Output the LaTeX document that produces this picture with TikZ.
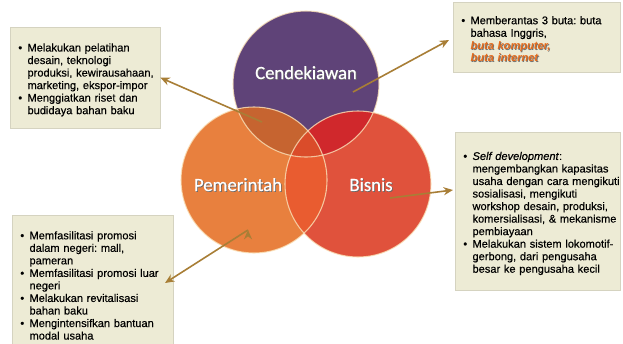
\documentclass[tikz,border=0pt]{standalone}
\usepackage{fontspec}
\setmainfont{Liberation Sans}[UprightFeatures={FakeBold=0.35},ItalicFeatures={FakeBold=0.35}]
\newfontfamily\hurufjudul{Carlito}[FakeBold=0.6]
\usetikzlibrary{arrows.meta}
\frenchspacing

\definecolor{ungu}{RGB}{95,67,120}
\definecolor{oranye}{RGB}{232,128,62}
\definecolor{merah}{RGB}{224,82,60}
\definecolor{irisanPB}{RGB}{233,92,48}
\definecolor{irisanCP}{RGB}{198,100,48}
\definecolor{irisanCB}{RGB}{208,40,44}
\definecolor{irisanCPB}{RGB}{218,76,42}
\definecolor{tepi}{RGB}{250,226,186}
\definecolor{isikotak}{RGB}{237,235,213}
\definecolor{coklat}{RGB}{168,126,54}
\definecolor{jingga}{RGB}{228,108,30}

\newlength{\jarakbutir}
\setlength{\jarakbutir}{13pt}
\newcommand{\butir}{\par\setlength{\leftskip}{\jarakbutir}\noindent\llap{\textbullet\hspace{4pt}}}
\newcommand{\bayang}[2]{\leavevmode\rlap{\hspace{0.6pt}\raisebox{-0.6pt}{\color{#2}#1}}#1}
\newcommand{\sorot}[1]{{\color{jingga}\bfseries\itshape\bayang{#1}{black!55}}}

\tikzset{
  lingkaran/.style={circle,minimum size=109.5pt,inner sep=0pt,fill=#1},
  nama/.style={text=white,font=\hurufjudul\fontsize{14}{16}\selectfont},
  kotak/.style={fill=isikotak,draw=isikotak!90!black,line width=0.3pt,anchor=north west,
    inner xsep=0pt,inner ysep=0pt,text width=#1,align=left,
    font=\fontsize{8.3}{9.4}\selectfont,
    execute at begin node={\setlength{\parindent}{0pt}}},
  panah/.style={draw=coklat,line width=1.2pt,-{Stealth[length=7pt,width=6pt]}}
}

\begin{document}
\begin{tikzpicture}[x=0.75pt,y=-0.75pt]
\useasboundingbox (0,0) rectangle (623,343);
% tiga lingkaran
\node[lingkaran=ungu]   (cend) at (306,84)  {};
\node[lingkaran=merah]  (bis)  at (358,184) {};
\node[lingkaran=oranye] (pem)  at (254,180) {};
% irisan
\begin{scope}
  \clip (pem.center) circle[radius=54.75pt];
  \fill[irisanPB] (bis.center) circle[radius=54.75pt];
\end{scope}
\begin{scope}
  \clip (cend.center) circle[radius=54.75pt];
  \fill[irisanCP] (pem.center) circle[radius=54.75pt];
  \fill[irisanCB] (bis.center) circle[radius=54.75pt];
  \clip (pem.center) circle[radius=54.75pt];
  \fill[irisanCPB] (bis.center) circle[radius=54.75pt];
\end{scope}
\foreach \lk in {cend,bis,pem}
  \draw[tepi,line width=0.8pt,opacity=0.8] (\lk.center) circle[radius=54.75pt];
\node[nama] (tCend) at ([yshift=8.25pt]cend.center) {\bayang{Cendekiawan}{black!60}};
\node[nama] (tPem) at ([xshift=-12pt,yshift=-3.75pt]pem.center) {\bayang{Pemerintah}{black!60}};
\node[nama] (tBis) at ([xshift=9.75pt,yshift=-0.75pt]bis.center) {\bayang{Bisnis}{black!60}};

% kotak keterangan
\node[kotak=112.5pt,minimum height=75.75pt] (kotakA) at (10,27) {%
  \butir Melakukan pelatihan\\ desain, teknologi\\ produksi, kewirausahaan,\\ marketing, ekspor-impor
  \butir Menggiatkan riset dan\\ budidaya bahan baku\par};
\node[kotak=125.25pt,minimum height=52.5pt] (kotakB) at (453,2) {%
  \butir Memberantas 3 buta: buta\\ bahasa Inggris,\\ \sorot{buta komputer,}\\ \sorot{buta internet}\par};
\node[kotak=123.75pt,minimum height=118.5pt] (kotakC) at (455,132) {%
  \butir \textit{Self development}:\\ mengembangkan kapasitas\\ usaha dengan cara mengikuti\\
  sosialisasi, mengikuti\\ workshop desain, produksi,\\ komersialisasi, \& mekanisme\\ pembiayaan
  \butir Melakukan sistem lokomotif-\\ gerbong, dari pengusaha\\ besar ke pengusaha kecil\par};
\node[kotak=120.75pt,minimum height=102pt] (kotakD) at (12,215) {%
  \butir Memfasilitasi promosi\\ dalam negeri: mall,\\ pameran
  \butir Memfasilitasi promosi luar\\ negeri
  \butir Melakukan revitalisasi\\ bahan baku
  \butir Mengintensifkan bantuan\\ modal usaha\par};

% panah
\coordinate (pA) at (262,122);
\coordinate (pB) at (353,92);
\coordinate (pC) at (390,198);
\coordinate (pD) at (248,230);
\coordinate (uB) at (449,40);
\coordinate (uC) at (453,190);
\coordinate (uD) at (165,283);
\path[panah]
  (pA) edge (kotakA.east)
  (pB) edge (uB)
  (pC) edge (uC)
  (pD) edge (uD);
\end{tikzpicture}
\end{document}
